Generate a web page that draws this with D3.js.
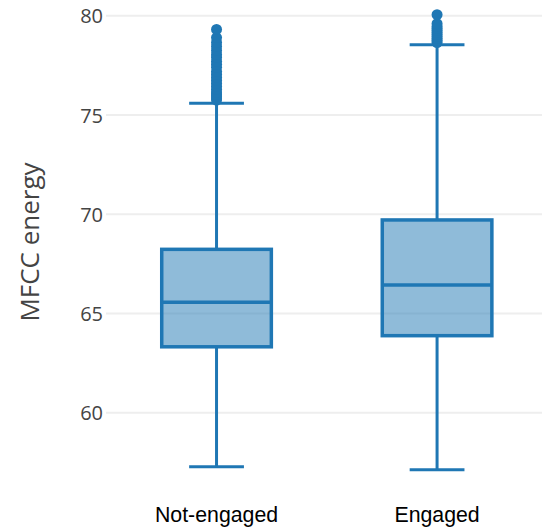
<!DOCTYPE html>
<html>
<head>
<meta charset="utf-8">
<script src="https://cdn.jsdelivr.net/npm/d3@7"></script>
<style>
  html, body { margin: 0; padding: 0; background: #fff; }
  svg { display: block; }
</style>
</head>
<body>
<svg id="chart" width="542" height="531"></svg>
<script>
// Group names along the x axis
const categories = ["Not-engaged", "Engaged"];

// Five-number summaries per group (lower whisker, Q1, median, Q3, upper whisker)
const lowerWhisker = [57.28, 57.12];
const q1Values     = [63.32, 63.88];
const medians      = [65.56, 66.43];
const q3Values     = [68.23, 69.71];
const upperWhisker = [75.59, 78.54];

// Points beyond the upper whisker
const outliersNotEngaged = [75.75, 75.85, 75.95, 76.05, 76.15, 76.3, 76.45, 76.6, 76.75,
  76.9, 77.05, 77.2, 77.4, 77.55, 77.7, 77.9, 78.05, 78.25, 78.45, 78.65, 78.9, 79.31];
const outliersEngaged = [78.65, 78.75, 78.85, 78.95, 79.05, 79.15, 79.25, 79.35, 79.45,
  79.6, 80.05];
const outliers = [outliersNotEngaged, outliersEngaged];

// Axis ticks
const yTicks = [60, 65, 70, 75, 80];

const color = "#1f77b4";
const svg = d3.select("#chart");

const plotLeft = 106, plotRight = 542;

const x = d3.scaleBand()
  .domain(categories)
  .range([106.6, 547])
  .paddingInner(0.503)
  .paddingOuter(0.25);

const y = d3.scaleLinear()
  .domain([60, 80])
  .range([412.7, 15.7]);

// Horizontal grid lines
svg.append("g")
  .selectAll("line")
  .data(yTicks)
  .join("line")
  .attr("x1", plotLeft).attr("x2", plotRight)
  .attr("y1", d => y(d)).attr("y2", d => y(d))
  .attr("stroke", "#eeeeee")
  .attr("stroke-width", 2);

// Y axis tick labels
const yAxis = d3.axisLeft(y).tickValues(yTicks).tickSize(0).tickPadding(0);
const yg = svg.append("g").attr("transform", "translate(103,0)").call(yAxis);
yg.select(".domain").remove();
yg.selectAll("text")
  .attr("font-family", "'Open Sans', sans-serif")
  .attr("font-size", 20)
  .attr("fill", "#444")
  .attr("dy", "0.36em");

// Y axis title
svg.append("text")
  .attr("transform", "translate(39,242) rotate(-90)")
  .attr("text-anchor", "middle")
  .attr("font-family", "'Open Sans', sans-serif")
  .attr("font-size", 26)
  .attr("fill", "#444")
  .text("MFCC energy");

// X axis category labels
const xAxis = d3.axisBottom(x).tickSize(0).tickPadding(0);
const xg = svg.append("g").attr("transform", "translate(0,506.7)").call(xAxis);
xg.select(".domain").remove();
xg.selectAll("text")
  .attr("font-family", "'Liberation Sans', Arial, sans-serif")
  .attr("font-size", 21.3)
  .attr("fill", "#000")
  .attr("dy", "0.71em");

// Boxes
const groups = svg.append("g")
  .selectAll("g")
  .data(categories.map((c, i) => ({
    cat: c,
    lo: lowerWhisker[i], q1: q1Values[i], med: medians[i], q3: q3Values[i], hi: upperWhisker[i],
    out: outliers[i]
  })))
  .join("g");

const bw = x.bandwidth();

// Whisker stems
groups.append("line")
  .attr("x1", d => x(d.cat) + bw / 2).attr("x2", d => x(d.cat) + bw / 2)
  .attr("y1", d => y(d.hi)).attr("y2", d => y(d.q3))
  .attr("stroke", color).attr("stroke-width", 3);
groups.append("line")
  .attr("x1", d => x(d.cat) + bw / 2).attr("x2", d => x(d.cat) + bw / 2)
  .attr("y1", d => y(d.q1)).attr("y2", d => y(d.lo))
  .attr("stroke", color).attr("stroke-width", 3);

// Whisker caps
groups.selectAll("line.cap")
  .data(d => [d, d].map((v, k) => ({ cat: v.cat, val: k ? v.lo : v.hi })))
  .join("line")
  .attr("class", "cap")
  .attr("x1", d => x(d.cat) + bw / 4).attr("x2", d => x(d.cat) + bw * 3 / 4)
  .attr("y1", d => y(d.val)).attr("y2", d => y(d.val))
  .attr("stroke", color).attr("stroke-width", 3);

// Box body
groups.append("rect")
  .attr("x", d => x(d.cat))
  .attr("width", bw)
  .attr("y", d => y(d.q3))
  .attr("height", d => y(d.q1) - y(d.q3))
  .attr("fill", color).attr("fill-opacity", 0.5)
  .attr("stroke", color).attr("stroke-width", 3.5);

// Median line
groups.append("line")
  .attr("x1", d => x(d.cat)).attr("x2", d => x(d.cat) + bw)
  .attr("y1", d => y(d.med)).attr("y2", d => y(d.med))
  .attr("stroke", color).attr("stroke-width", 3.5);

// Outlier points
groups.selectAll("circle")
  .data(d => d.out.map(v => ({ cat: d.cat, v })))
  .join("circle")
  .attr("cx", d => x(d.cat) + bw / 2)
  .attr("cy", d => y(d.v))
  .attr("r", 5.5)
  .attr("fill", color);
</script>
</body>
</html>
